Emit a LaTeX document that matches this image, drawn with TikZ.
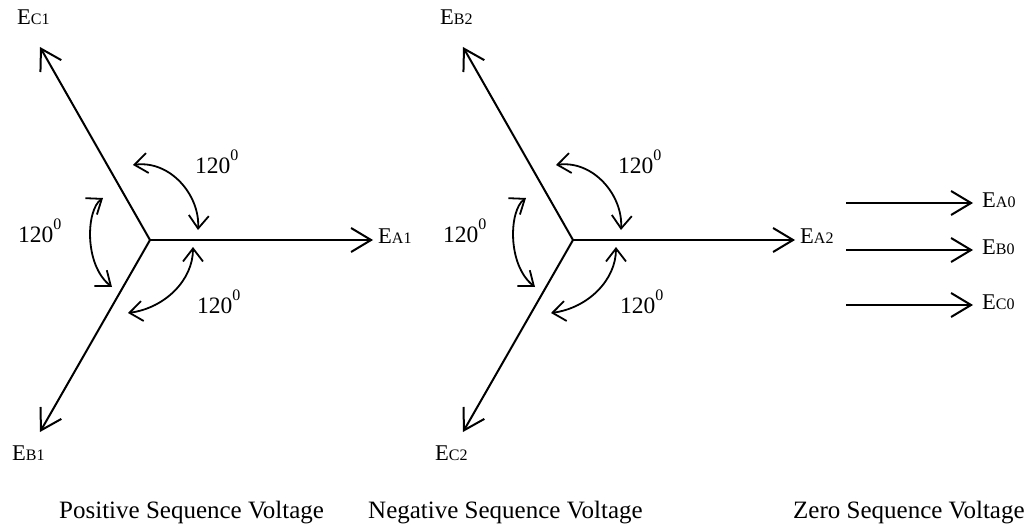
\documentclass[tikz,border=0pt]{standalone}
\usepackage{fontspec}
\setmainfont{Liberation Serif}
\usetikzlibrary{arrows.meta}
\newcommand\elab[1]{{\fontsize{22.5}{22.5}\selectfont E}{\fontsize{16}{16}\selectfont #1}}
\newcommand\angtext{{\fontsize{23.5}{23.5}\selectfont 120}\raisebox{13pt}{\fontsize{16}{16}\selectfont 0}}
\begin{document}
\begin{tikzpicture}[x=1pt,y=-1pt,
  vec/.style={line width=2pt,-{Straight Barb[length=20pt,width=24pt]}},
  arcarrow/.style={line width=1.8pt,{Straight Barb[length=13pt,width=20pt]}-{Straight Barb[length=13pt,width=20pt]}},
  lab/.style={inner sep=0pt,anchor=base west},
  captext/.style={inner sep=0pt,anchor=base west,font=\fontsize{25}{25}\selectfont}]
\useasboundingbox (0,0) rectangle (1026,527);
% ---------- positive sequence ----------
\coordinate (O1) at (150,240);
\coordinate (A1) at (373,240);
\coordinate (C1) at (40,47);
\coordinate (B1) at (40,432);
\draw[vec] (O1) -- (A1);
\draw[vec] (O1) -- (C1);
\draw[vec] (O1) -- (B1);
\node[lab] (lA1) at (378,243) {\elab{A1}};
\node[lab] (lC1) at (17,25) {\elab{C1}};
\node[lab] (lB1) at (12,460) {\elab{B1}};
\coordinate (p1s) at (133,165); \coordinate (p1e) at (198,230);
\coordinate (p2s) at (103,198); \coordinate (p2e) at (112,287);
\coordinate (p3s) at (193,247); \coordinate (p3e) at (128,313);
\draw[arcarrow] (p1s) .. controls (170,160) and (200,195) .. (p1e);
\draw[arcarrow] (p2s) .. controls (86,210) and (84,265) .. (p2e);
\draw[arcarrow] (p3s) .. controls (193,280) and (165,308) .. (p3e);
\node[lab] (t1) at (195,173) {\angtext};
\node[lab] (t2) at (18,242) {\angtext};
\node[lab] (t3) at (197,313) {\angtext};
% ---------- negative sequence ----------
\begin{scope}[xshift=423pt]
\coordinate (O2) at (150,240);
\coordinate (A2) at (372,240);
\coordinate (B2) at (40,47);
\coordinate (C2) at (40,432);
\draw[vec] (O2) -- (A2);
\draw[vec] (O2) -- (B2);
\draw[vec] (O2) -- (C2);
\node[lab] (lA2) at (377,243) {\elab{A2}};
\node[lab] (lB2) at (17,25) {\elab{B2}};
\node[lab] (lC2) at (12,460) {\elab{C2}};
\coordinate (q1s) at (133,165); \coordinate (q1e) at (198,230);
\coordinate (q2s) at (103,198); \coordinate (q2e) at (112,287);
\coordinate (q3s) at (193,247); \coordinate (q3e) at (128,313);
\draw[arcarrow] (q1s) .. controls (170,160) and (200,195) .. (q1e);
\draw[arcarrow] (q2s) .. controls (86,210) and (84,265) .. (q2e);
\draw[arcarrow] (q3s) .. controls (193,280) and (165,308) .. (q3e);
\node[lab] (u1) at (195,173) {\angtext};
\node[lab] (u2) at (20,242) {\angtext};
\node[lab] (u3) at (197,313) {\angtext};
\end{scope}
% ---------- zero sequence ----------
\coordinate (z1s) at (846,203); \coordinate (z1e) at (973,203);
\coordinate (z2s) at (846,250); \coordinate (z2e) at (973,250);
\coordinate (z3s) at (846,305); \coordinate (z3e) at (973,305);
\draw[vec] (z1s) -- (z1e);
\draw[vec] (z2s) -- (z2e);
\draw[vec] (z3s) -- (z3e);
\node[lab] (lA0) at (982,207) {\elab{A0}};
\node[lab] (lB0) at (982,254) {\elab{B0}};
\node[lab] (lC0) at (982,309) {\elab{C0}};
% ---------- captions ----------
\node[captext] (c1) at (59,518) {Positive Sequence Voltage};
\node[captext] (c2) at (368,518) {Negative Sequence Voltage};
\node[captext] (c3) at (793,518) {Zero Sequence Voltage};
\end{tikzpicture}
\end{document}
